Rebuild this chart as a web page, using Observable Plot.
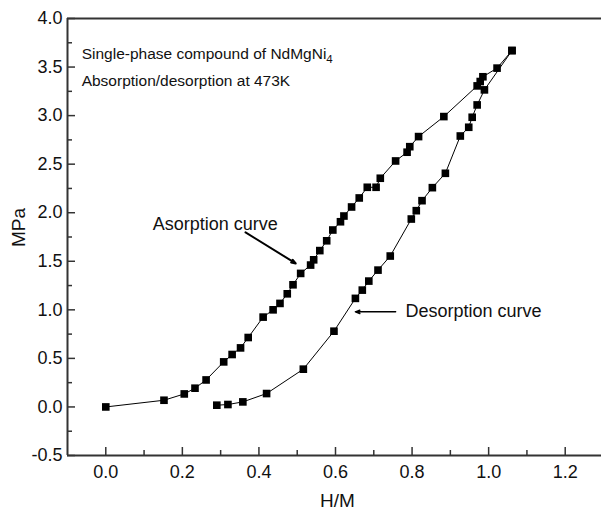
<!DOCTYPE html>
<html><head><meta charset="utf-8">
<script src="https://cdn.jsdelivr.net/npm/d3@7"></script>
<script src="https://cdn.jsdelivr.net/npm/@observablehq/plot@0.6"></script>
<style>body{margin:0;background:#fff}</style>
</head><body><div id="chart"></div>
<script>
// Absorption curve (H/M, MPa)
const absorptionHM = [0, 0.152, 0.205, 0.233, 0.262, 0.308, 0.330, 0.352, 0.372, 0.411, 0.437, 0.455, 0.474, 0.489, 0.509, 0.535, 0.543, 0.559, 0.577, 0.593, 0.613, 0.622, 0.642, 0.662, 0.683, 0.706, 0.717, 0.757, 0.787, 0.794, 0.817, 0.883, 0.970, 0.978, 0.985, 1.022, 1.061];
const absorptionMPa = [0, 0.069, 0.134, 0.193, 0.278, 0.464, 0.540, 0.608, 0.715, 0.925, 1.000, 1.066, 1.165, 1.258, 1.375, 1.461, 1.515, 1.610, 1.711, 1.822, 1.907, 1.966, 2.059, 2.152, 2.262, 2.262, 2.355, 2.533, 2.623, 2.680, 2.784, 2.990, 3.306, 3.351, 3.400, 3.489, 3.670];
// Desorption curve (H/M, MPa)
const desorptionHM = [1.061, 0.989, 0.970, 0.957, 0.948, 0.926, 0.887, 0.853, 0.826, 0.811, 0.798, 0.743, 0.711, 0.687, 0.670, 0.652, 0.596, 0.516, 0.420, 0.358, 0.319, 0.290];
const desorptionMPa = [3.670, 3.265, 3.110, 2.983, 2.880, 2.790, 2.406, 2.258, 2.124, 2.021, 1.935, 1.554, 1.409, 1.296, 1.203, 1.118, 0.780, 0.389, 0.138, 0.052, 0.025, 0.018];

const xMajorTicks = [0, 0.2, 0.4, 0.6, 0.8, 1.0, 1.2];
const xMinorTicks = [0.1, 0.3, 0.5, 0.7, 0.9, 1.1];
const yMajorTicks = [-0.5, 0, 0.5, 1.0, 1.5, 2.0, 2.5, 3.0, 3.5, 4.0];
const yMinorTicks = [-0.25, 0.25, 0.75, 1.25, 1.75, 2.25, 2.75, 3.25, 3.75];

const noteTexts = ["Single-phase compound of NdMgNi\u2084", "Absorption/desorption at 473K"];
const noteX = [-0.063, -0.063];
const noteY = [3.585, 3.306];

const curveLabels = ["Asorption curve", "Desorption curve"];
const curveLabelX = [0.1226, 0.7827];
const curveLabelY = [1.822, 0.928];

const arrowX1 = [0.365, 0.757];
const arrowY1 = [1.798, 0.979];
const arrowX2 = [0.496, 0.652];
const arrowY2 = [1.478, 0.979];

const xLabel = "H/M";
const yLabel = "MPa";

const absorption = absorptionHM.map((x, i) => ({x, y: absorptionMPa[i]}));
const desorption = desorptionHM.map((x, i) => ({x, y: desorptionMPa[i]}));
const notes = noteTexts.map((text, i) => ({text, x: noteX[i], y: noteY[i]}));
const labels = curveLabels.map((text, i) => ({text, x: curveLabelX[i], y: curveLabelY[i]}));
const arrows = arrowX1.map((x1, i) => ({x1, y1: arrowY1[i], x2: arrowX2[i], y2: arrowY2[i], w: i === 0 ? 2 : 1.5}));

const fmt = d => d.toFixed(1);
const axisColor = "#333";

const chart = Plot.plot({
  width: 601,
  height: 511,
  marginLeft: 67,
  marginRight: -2,
  marginTop: 18,
  marginBottom: 56,
  style: {fontFamily: "'Liberation Sans', Arial, sans-serif", fontSize: "18px", color: "#111", background: "#fff", overflow: "visible"},
  x: {domain: [-0.1, 1.3]},
  y: {domain: [-0.5, 4.0]},
  marks: [
    Plot.axisX({ticks: xMajorTicks, tickSize: -8, tickPadding: 18, tickFormat: fmt, label: null, stroke: axisColor, strokeWidth: 1.5}),
    Plot.axisX({ticks: xMinorTicks, tickSize: -5, tickPadding: 0, tickFormat: () => "", label: null, stroke: axisColor, strokeWidth: 1.5}),
    Plot.axisY({ticks: yMajorTicks, tickSize: -8, tickPadding: 13, tickFormat: fmt, label: null, stroke: axisColor, strokeWidth: 1.5}),
    Plot.axisY({ticks: yMinorTicks, tickSize: -5, tickPadding: 0, tickFormat: () => "", label: null, stroke: axisColor, strokeWidth: 1.5}),
    Plot.ruleY([-0.5], {stroke: axisColor, strokeWidth: 2}),
    Plot.ruleY([4.0], {stroke: axisColor, strokeWidth: 2}),
    Plot.ruleX([-0.1], {stroke: axisColor, strokeWidth: 2}),
    Plot.text([xLabel], {frameAnchor: "bottom", text: d => d, dx: 2, dy: 51, lineAnchor: "bottom", fontSize: 19, fill: "#111"}),
    Plot.text([yLabel], {frameAnchor: "left", text: d => d, rotate: -90, dx: -56, dy: 10, lineAnchor: "top", fontSize: 19, fill: "#111"}),
    Plot.line(absorption, {x: "x", y: "y", stroke: "#000", strokeWidth: 1}),
    Plot.line(desorption, {x: "x", y: "y", stroke: "#000", strokeWidth: 1}),
    Plot.dot(absorption, {x: "x", y: "y", symbol: "square", r: 4.3, fill: "#000"}),
    Plot.dot(desorption, {x: "x", y: "y", symbol: "square", r: 4.3, fill: "#000"}),
    Plot.text(notes, {x: "x", y: "y", text: "text", textAnchor: "start", lineAnchor: "bottom", fontSize: 15.5, fill: "#111"}),
    Plot.text(labels, {x: "x", y: "y", text: "text", textAnchor: "start", lineAnchor: "bottom", fontSize: 18, fill: "#111"}),
    Plot.arrow(arrows, {x1: "x1", y1: "y1", x2: "x2", y2: "y2", stroke: "#000", strokeWidth: "w", headLength: 7, headAngle: 40})
  ]
});
// Render the subscript "4" of NdMgNi4 as a real subscript tspan
chart.querySelectorAll("text").forEach(t => {
  if (t.textContent.includes("\u2084") && t.childElementCount === 0) {
    const base = t.textContent.replace("\u2084", "");
    t.textContent = base;
    const sub = document.createElementNS("http://www.w3.org/2000/svg", "tspan");
    sub.setAttribute("font-size", "11.5");
    sub.setAttribute("dy", "4");
    sub.textContent = "4";
    t.appendChild(sub);
  }
});
document.getElementById("chart").append(chart);
</script>
</body></html>
